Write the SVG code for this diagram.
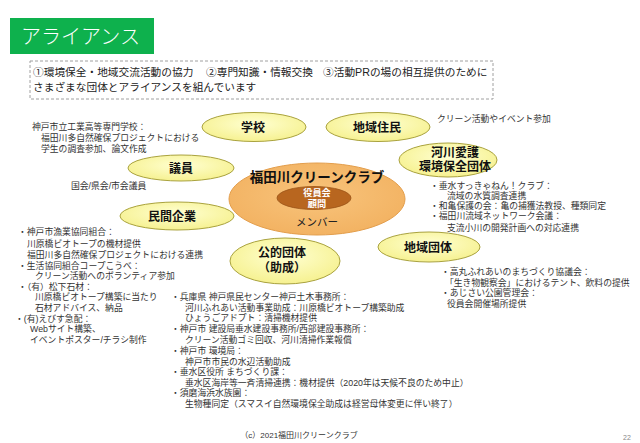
<svg xmlns="http://www.w3.org/2000/svg" width="640" height="443" viewBox="0 0 640 443">
<defs>
<radialGradient id="yg" cx="50%" cy="40%" r="60%">
<stop offset="0" stop-color="#FFFFD2"/>
<stop offset="1" stop-color="#F6F190"/>
</radialGradient>
<radialGradient id="og" cx="50%" cy="45%" r="60%">
<stop offset="0" stop-color="#F8C47C"/>
<stop offset="1" stop-color="#F2B160"/>
</radialGradient>
</defs>
<style>
text{font-family:"Liberation Sans","Noto Sans CJK JP",sans-serif;}
.yel{fill:url(#yg);stroke:#A9A23E;stroke-width:1;}
.nl{font-size:12px;font-weight:bold;fill:#111;text-anchor:middle;}
.t{font-size:8.8px;fill:#333;}
.hd{font-size:10.7px;fill:#222;}
</style>
<rect x="0" y="0" width="640" height="443" fill="#FFFFFF"/>
<g id="title">
<rect x="10" y="18" width="144" height="36" fill="#0EB14D"/>
<text x="21" y="44" font-size="20.5" font-weight="300" fill="#FFFFFF" textLength="119" lengthAdjust="spacingAndGlyphs">アライアンス</text>
</g>
<g id="header">
<rect x="30" y="61" width="463" height="38" fill="none" stroke="#A0A0A0" stroke-width="1" stroke-dasharray="3,2"/>
<text class="hd"><tspan x="33" y="76">①環境保全・地域交流活動の協力</tspan><tspan x="206" y="76">②専門知識・情報交換</tspan><tspan x="323" y="76">③活動PRの場の相互提供のために</tspan></text>
<text class="hd" x="33" y="91">さまざまな団体とアライアンスを組んでいます</text>
</g>
<g id="connectors"></g>
<g id="club">
<ellipse cx="317" cy="199" rx="88" ry="36" fill="url(#og)" stroke="#E39E4C" stroke-width="1"/>
<text x="317" y="182" font-size="13.5" font-weight="bold" fill="#111" text-anchor="middle">福田川クリーンクラブ</text>
<ellipse cx="314" cy="198" rx="37" ry="11.5" fill="#B8661F" stroke="#9A5418" stroke-width="0.8"/>
<text x="317" y="196.2" font-size="9.2" font-weight="bold" fill="#FFFFFF" text-anchor="middle">役員会</text>
<text x="317" y="207" font-size="9.2" font-weight="bold" fill="#FFFFFF" text-anchor="middle">顧問</text>
<text x="317" y="226" font-size="10.5" fill="#222" text-anchor="middle">メンバー</text>
</g>
<g id="school">
<ellipse class="yel" cx="254" cy="127" rx="52" ry="14.5"/>
<text class="nl" x="253" y="131.5">学校</text>
</g>
<g id="giin">
<ellipse class="yel" cx="181" cy="168" rx="53" ry="13"/>
<text class="nl" x="181" y="172.5">議員</text>
</g>
<g id="minkan">
<ellipse class="yel" cx="177" cy="216" rx="57" ry="14"/>
<text class="nl" x="172" y="220.5">民間企業</text>
</g>
<g id="chiiki-jumin">
<ellipse class="yel" cx="378" cy="127" rx="52" ry="14.5"/>
<text class="nl" x="377" y="131.5">地域住民</text>
</g>
<g id="kasen">
<ellipse class="yel" cx="448" cy="160" rx="49" ry="17"/>
<text class="nl" x="455" y="156.5">河川愛護</text>
<text class="nl" x="455" y="170.5">環境保全団体</text>
</g>
<g id="chiiki-dantai">
<ellipse class="yel" cx="429" cy="247" rx="51" ry="15"/>
<text class="nl" x="428" y="251.5">地域団体</text>
</g>
<g id="koteki">
<ellipse class="yel" cx="285" cy="261" rx="55" ry="23"/>
<text class="nl" x="282" y="256.5">公的団体</text>
<text class="nl" x="282" y="271.5">（助成）</text>
</g>
<g id="notes">
<text class="t" x="32" y="129.5">神戸市立工業高等専門学校：</text>
<text class="t" x="41" y="141">福田川多自然確保プロジェクトにおける</text>
<text class="t" x="41" y="152">学生の調査参加、論文作成</text>
<text class="t" x="71" y="189">国会/県会/市会議員</text>
<text class="t" x="437" y="121.5">クリーン活動やイベント参加</text>
<text class="t" x="18" y="235">・神戸市漁業協同組合：</text>
<text class="t" x="27" y="246.5">川原橋ビオトープの機材提供</text>
<text class="t" x="27" y="257.5">福田川多自然確保プロジェクトにおける連携</text>
<text class="t" x="18" y="268.5">・生活協同組合コープこうべ：</text>
<text class="t" x="35" y="279">クリーン活動へのボランティア参加</text>
<text class="t" x="18" y="289.5">・（有）松下石材：</text>
<text class="t" x="35" y="300">川原橋ビオトープ構築に当たり</text>
<text class="t" x="35" y="310.7">石材アドバイス、納品</text>
<text class="t" x="15" y="321.7">・(有)えびす急配：</text>
<text class="t" x="30" y="332.4">Webサイト構築、</text>
<text class="t" x="30" y="343">イベントポスター/チラシ制作</text>
<text class="t" x="171" y="300">・兵庫県 神戸県民センター神戸土木事務所：</text>
<text class="t" x="185" y="310.6">河川ふれあい活動事業助成：川原橋ビオトープ構築助成</text>
<text class="t" x="185" y="321.2">ひょうごアドプト：清掃機材提供</text>
<text class="t" x="171" y="332">・神戸市 建設局垂水建設事務所/西部建設事務所：</text>
<text class="t" x="185" y="343">クリーン活動ゴミ回収、河川清掃作業報償</text>
<text class="t" x="171" y="354">・神戸市 環境局：</text>
<text class="t" x="185" y="364.6">神戸市市民の水辺活動助成</text>
<text class="t" x="171" y="375">・垂水区役所 まちづくり課：</text>
<text class="t" x="185" y="385.5">垂水区海岸等一斉清掃連携：機材提供（2020年は天候不良のため中止）</text>
<text class="t" x="171" y="396">・須磨海浜水族園：</text>
<text class="t" x="185" y="406.5">生物種同定（スマスイ自然環境保全助成は経営母体変更に伴い終了）</text>
<text class="t" x="430" y="188.5">・垂水すっきゃねん！クラブ：</text>
<text class="t" x="447" y="198.5">流域の水質調査連携</text>
<text class="t" x="430" y="208.8">・和亀保護の会：亀の捕獲法教授、種類同定</text>
<text class="t" x="430" y="219.3">・福田川流域ネットワーク会議：</text>
<text class="t" x="447" y="231">支流小川の開発計画への対応連携</text>
<text class="t" x="441" y="275">・高丸ふれあいのまちづくり協議会：</text>
<text class="t" x="445" y="285.5">「生き物観察会」におけるテント、飲料の提供</text>
<text class="t" x="441" y="296">・あじさい公園管理会：</text>
<text class="t" x="447" y="306.5">役員会開催場所提供</text>
</g>
<g id="footer">
<text x="299" y="438" font-size="8" fill="#333" text-anchor="middle">（c）2021福田川クリーンクラブ</text>
<text x="623" y="440" font-size="7" fill="#888">22</text>
</g>
</svg>
